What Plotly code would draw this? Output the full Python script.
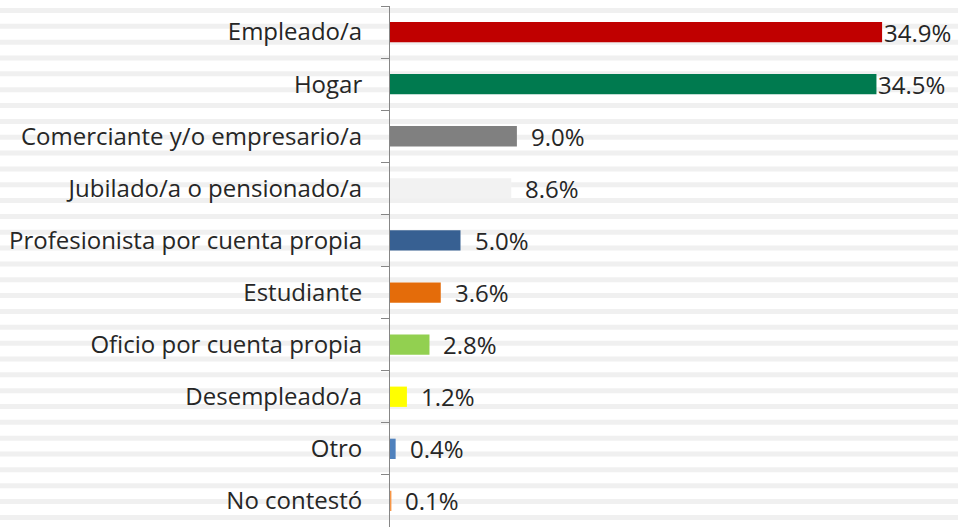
import plotly.graph_objects as go

categories = ["Empleado/a", "Hogar", "Comerciante y/o empresario/a",
              "Jubilado/a o pensionado/a", "Profesionista por cuenta propia",
              "Estudiante", "Oficio por cuenta propia", "Desempleado/a",
              "Otro", "No contestó"]
values = [34.9, 34.5, 9.0, 8.6, 5.0, 3.6, 2.8, 1.2, 0.4, 0.1]
labels = ["34.9%", "34.5%", "9.0%", "8.6%", "5.0%", "3.6%", "2.8%", "1.2%", "0.4%", "0.1%"]
colors = ["#C00000", "#007A4F", "#808080", "#F2F2F2", "#376092",
          "#E46C0A", "#92D050", "#FFFF00", "#4F81BD", "#F79646"]

W, H = 958, 527
L, T = 390, 6
FONT = "Open Sans"
FS = 24
TXT = "#262626"

fig = go.Figure()
fig.add_trace(go.Bar(
    y=categories, x=values, orientation="h",
    marker=dict(color=colors, line=dict(width=0)),
    width=0.39, cliponaxis=False, hoverinfo="skip",
))

# data labels
for c, v, lab in zip(categories, values, labels):
    fig.add_annotation(x=v, y=c, text=lab, showarrow=False, xanchor="left",
                       xshift=0 if v > 30 else 12,
                       font=dict(family=FONT, size=FS, color=TXT))

# striped background (pattern fill)
shapes = []
plot_h = H - T
plot_w = W - L
for k in range(33):
    y0 = 8 + k * 15.84
    y1 = y0 + 5
    shapes.append(dict(type="rect", xref="paper", yref="paper",
                       x0=-L / plot_w, x1=1.0,
                       y0=(H - y1) / plot_h, y1=(H - y0) / plot_h,
                       fillcolor="#F0F0F0", line=dict(width=0), layer="below"))

fig.update_layout(
    width=W, height=H,
    margin=dict(l=L, r=0, t=T, b=0, autoexpand=False),
    paper_bgcolor="white", plot_bgcolor="rgba(0,0,0,0)",
    showlegend=False, shapes=shapes,
    xaxis=dict(range=[0, plot_w / 14.1], visible=False, fixedrange=True),
    yaxis=dict(autorange="reversed", showline=True, linecolor="#868686", linewidth=1,
               ticks="outside", ticklen=8, tickcolor="#868686", tickwidth=1,
               tickson="boundaries", showgrid=False, automargin=False,
               ticklabelstandoff=22,
               tickfont=dict(family=FONT, size=FS, color=TXT)),
    font=dict(family=FONT),
)

fig.write_html("out.html", config={"displayModeBar": False, "staticPlot": True},
               post_script="document.body.style.margin='0';document.body.style.overflow='hidden';")
